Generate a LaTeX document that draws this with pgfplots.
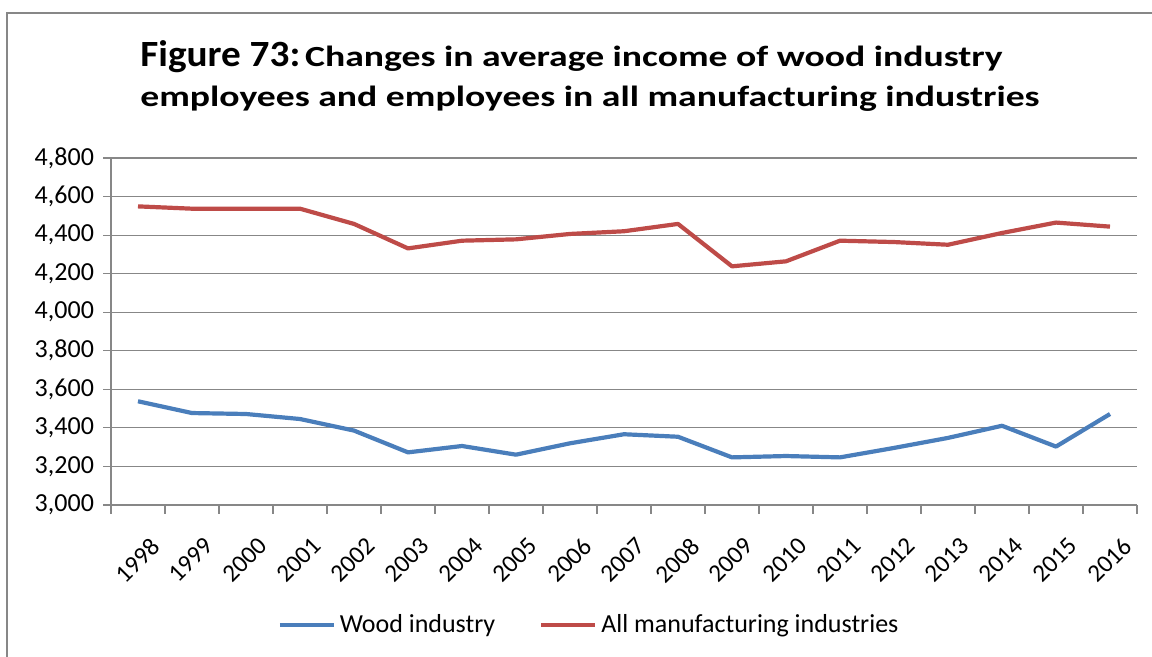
\documentclass[border=0pt]{standalone}
\usepackage{pgfplots}
\pgfplotsset{compat=1.18}
\usepackage{fontspec}
\setmainfont{Carlito}
\newfontfamily\titlefont[FakeStretch=1.29]{Carlito}
\newfontfamily\figfont[FakeStretch=1.06]{Carlito}
\definecolor{woodblue}{HTML}{4A7EBB}
\definecolor{mfgred}{HTML}{BE4B48}
\definecolor{gridgray}{HTML}{878787}
\begin{document}
\begin{tikzpicture}
\path[use as bounding box] (0,0) rectangle (576pt,328.5pt);
\draw[gridgray,line width=1pt] (3.5pt,0) -- (3.5pt,322pt) -- (576pt,322pt);
\node[anchor=base west,inner sep=0pt] at (70pt,295pt) {\bfseries\figfont\fontsize{18.5}{20}\selectfont Figure 73:\titlefont\fontsize{14.6}{17}\selectfont\,Changes in average income of wood industry};
\node[anchor=base west,inner sep=0pt] at (70pt,275pt) {\bfseries\titlefont\fontsize{14.6}{17}\selectfont employees and employees in all manufacturing industries};
\begin{axis}[
  at={(55.5pt,76pt)}, anchor=south west,
  width=513pt, height=173.5pt, scale only axis,
  xmin=-0.5, xmax=18.5, ymin=3000, ymax=4800,
  axis x line*=bottom, axis y line*=left,
  axis line style={gridgray,line width=0.6pt},
  xtick={0,...,18},
  xticklabels={1998,1999,2000,2001,2002,2003,2004,2005,2006,2007,2008,2009,2010,2011,2012,2013,2014,2015,2016},
  major x tick style={draw=none},
  minor xtick={-0.5,0.5,...,18.5},
  minor x tick style={gridgray,line width=0.6pt},
  minor tick length=4.5pt,
  xticklabel style={rotate=45,anchor=north east,font=\fontsize{12.5}{14}\selectfont,inner sep=1pt,yshift=-11pt,xshift=-3pt},
  ytick={3000,3200,...,4800},
  ymajorgrids, grid style={gridgray,line width=0.6pt},
  major y tick style={gridgray,line width=0.6pt},
  major tick length=4pt,
  tick align=outside,
  scaled y ticks=false,
  yticklabel style={font=\fontsize{13}{15}\selectfont,/pgf/number format/1000 sep={,},/pgf/number format/assume math mode=true,xshift=-1pt},
  legend style={at={(0.467,-0.345)},anchor=center,draw=none,legend columns=-1,font=\fontsize{13}{15}\selectfont,/tikz/every even column/.append style={column sep=20pt}},
  legend image code/.code={\draw[#1,line width=2pt] (0pt,0pt) -- (27pt,0pt);},
]
\addplot[woodblue,line width=2.1pt,line join=round] coordinates {
(0,3538)(1,3477)(2,3472)(3,3446)(4,3386)(5,3273)(6,3306)(7,3261)(8,3320)(9,3367)(10,3354)(11,3247)(12,3254)(13,3247)(14,3296)(15,3348)(16,3411)(17,3303)(18,3472)};
\addlegendentry{Wood industry}
\addplot[mfgred,line width=2.1pt,line join=round] coordinates {
(0,4549)(1,4537)(2,4537)(3,4537)(4,4458)(5,4331)(6,4371)(7,4378)(8,4406)(9,4420)(10,4458)(11,4238)(12,4264)(13,4371)(14,4364)(15,4350)(16,4411)(17,4465)(18,4444)};
\addlegendentry{All manufacturing industries}
\end{axis}
\end{tikzpicture}
\end{document}
